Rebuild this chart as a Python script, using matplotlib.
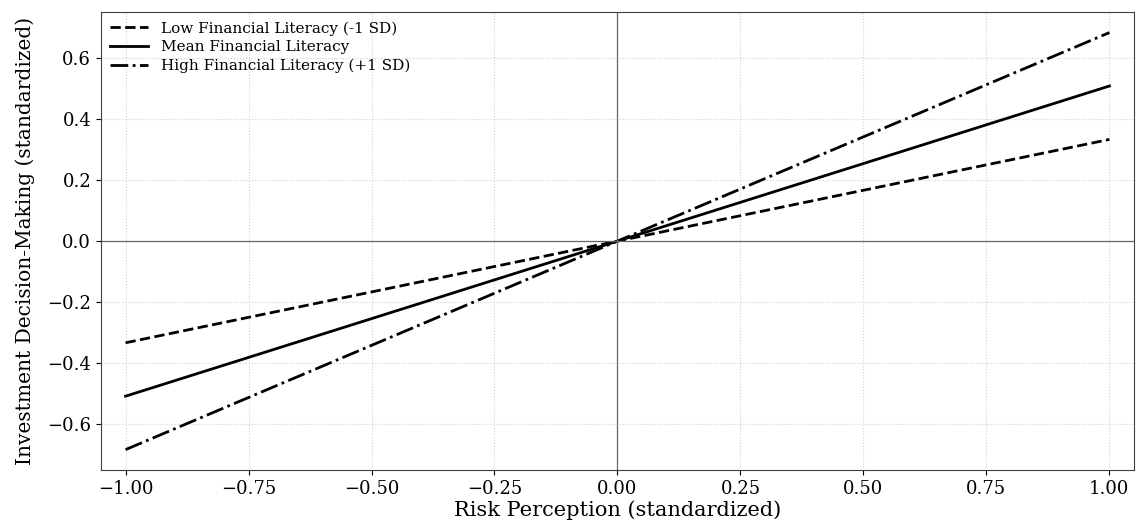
import matplotlib as mpl
import matplotlib.pyplot as plt
import numpy as np

mpl.rcParams['font.family'] = 'serif'
mpl.rcParams['font.serif'] = ['DejaVu Serif', 'Liberation Serif']
mpl.rcParams['mathtext.fontset'] = 'dejavuserif'

# simple slopes at -1 SD, mean, +1 SD of financial literacy
risk = [-1.0, 1.0]
low_fl = [-0.333, 0.333]
mean_fl = [-0.508, 0.508]
high_fl = [-0.683, 0.683]

fig = plt.figure(figsize=(11.42, 5.27), dpi=100)
ax = fig.add_axes([0.0884, 0.108, 0.9046, 0.869])

ax.plot(risk, low_fl, 'k--', lw=2, label='Low Financial Literacy (-1 SD)')
ax.plot(risk, mean_fl, 'k-', lw=2, label='Mean Financial Literacy')
ax.plot(risk, high_fl, 'k-.', lw=2, label='High Financial Literacy (+1 SD)')

ax.axhline(0, color='0.4', lw=0.9)
ax.axvline(0, color='0.4', lw=0.9)

ax.set_xlim(-1.05, 1.05)
ax.set_ylim(-0.75, 0.75)
ax.grid(True, linestyle=':', color='0.82', lw=0.8)
ax.set_xticks(np.arange(-1.0, 1.01, 0.25))
ax.tick_params(labelsize=13)

ax.set_xlabel('Risk Perception (standardized)', fontsize=15, labelpad=2)
ax.set_ylabel('Investment Decision-Making (standardized)', fontsize=14.5, labelpad=9)

for s in ax.spines.values():
    s.set_color('0.25')

ax.legend(loc='upper left', frameon=False, fontsize=11, handlelength=2.5,
          labelspacing=0.3, borderaxespad=0.2)

plt.savefig('out.png')
